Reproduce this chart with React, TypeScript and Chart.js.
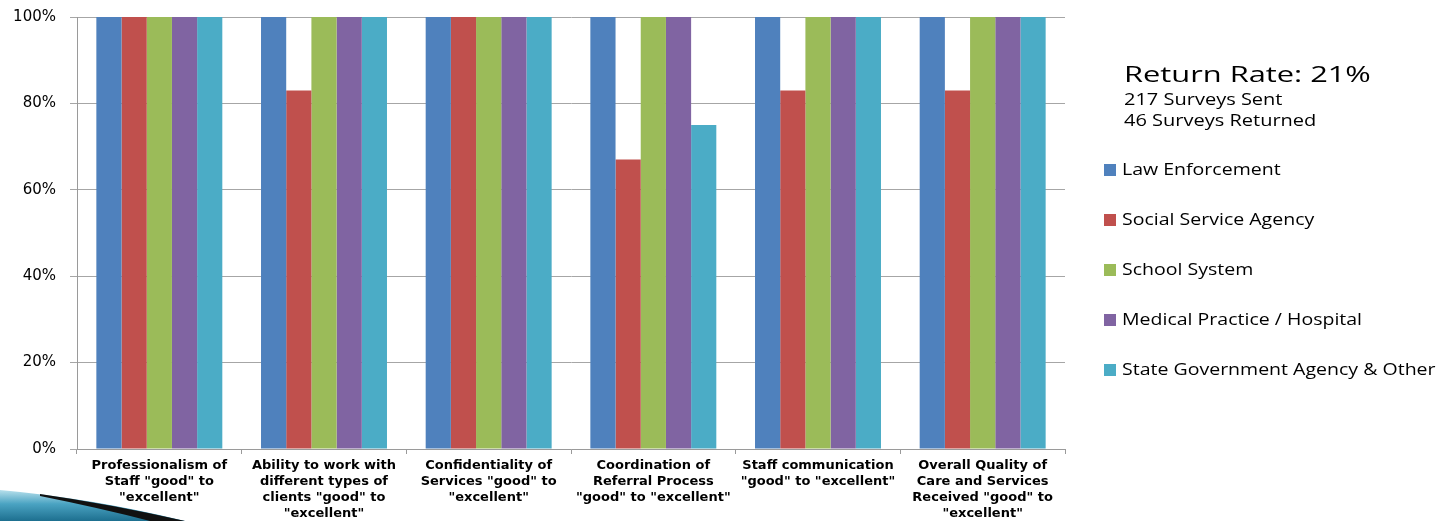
import React, { useEffect, useRef } from "react";
import { Chart, registerables } from "chart.js";

Chart.register(...registerables);

const categories: string[][] = [
  ["Professionalism of", "Staff \"good\" to", "\"excellent\""],
  ["Ability to work with", "different types of", "clients \"good\" to", "\"excellent\""],
  ["Confidentiality of", "Services \"good\" to", "\"excellent\""],
  ["Coordination of", "Referral Process", "\"good\" to \"excellent\""],
  ["Staff communication", "\"good\" to \"excellent\""],
  ["Overall Quality of", "Care and Services", "Received \"good\" to", "\"excellent\""],
];

const seriesNames = [
  "Law Enforcement",
  "Social Service Agency",
  "School System",
  "Medical Practice / Hospital",
  "State Government Agency & Other",
];

const lawEnforcement = [100, 100, 100, 100, 100, 100];
const socialService = [100, 83, 100, 67, 83, 83];
const schoolSystem = [100, 100, 100, 100, 100, 100];
const medicalPractice = [100, 100, 100, 100, 100, 100];
const stateGovernment = [100, 100, 100, 75, 100, 100];

const seriesColors = ["#4F81BD", "#C0504D", "#9BBB59", "#8064A2", "#4BACC6"];

const headerTitle = "Return Rate: 21%";
const headerLines = ["217 Surveys Sent", "46 Surveys Returned"];

const yTicks = [0, 20, 40, 60, 80, 100];

function stretchedText(ctx: CanvasRenderingContext2D, text: string, x: number, y: number, sx: number) {
  ctx.save();
  ctx.translate(x, y);
  ctx.scale(sx, 1);
  ctx.fillText(text, 0, 0);
  ctx.restore();
}

export default function App() {
  const ref = useRef<HTMLCanvasElement | null>(null);

  useEffect(() => {
    document.body.style.margin = "0";
    const canvas = ref.current;
    if (!canvas) return;
    const values = [lawEnforcement, socialService, schoolSystem, medicalPractice, stateGovernment];

    const sidePlugin = {
      id: "sidePanel",
      afterDraw(chart: any) {
        const ctx = chart.ctx as CanvasRenderingContext2D;
        ctx.save();
        ctx.fillStyle = "#000";
        ctx.textBaseline = "alphabetic";
        ctx.textAlign = "left";
        ctx.font = "22px 'Open Sans', sans-serif";
        stretchedText(ctx, headerTitle, 1124, 82, 1.4);
        ctx.font = "16px 'Open Sans', sans-serif";
        headerLines.forEach((l, i) => stretchedText(ctx, l, 1124, 105 + i * 21, 1.25));
        chart.data.datasets.forEach((ds: any, i: number) => {
          const y = 170 + i * 50;
          ctx.fillStyle = ds.backgroundColor;
          ctx.fillRect(1104, y - 6, 12, 12);
          ctx.fillStyle = "#000";
          ctx.font = "16px 'Open Sans', sans-serif";
          ctx.textBaseline = "middle";
          stretchedText(ctx, ds.label, 1122, y, 1.22);
        });
        // decorative swoosh bottom-left
        const g = ctx.createLinearGradient(0, 490, 0, 521);
        g.addColorStop(0, "#b8e0ec");
        g.addColorStop(0.45, "#4aa3c2");
        g.addColorStop(1, "#1d6f8f");
        ctx.beginPath();
        ctx.moveTo(0, 490);
        ctx.quadraticCurveTo(90, 498, 185, 521);
        ctx.lineTo(0, 521);
        ctx.closePath();
        ctx.fillStyle = g;
        ctx.fill();
        ctx.beginPath();
        ctx.moveTo(40, 494);
        ctx.quadraticCurveTo(110, 504, 185, 521);
        ctx.lineTo(150, 521);
        ctx.quadraticCurveTo(100, 508, 40, 496);
        ctx.closePath();
        ctx.fillStyle = "#111";
        ctx.fill();
        ctx.restore();
      },
    };

    const chart = new Chart(canvas, {
      type: "bar",
      data: {
        labels: categories,
        datasets: seriesNames.map((name, i) => ({
          label: name,
          data: values[i],
          backgroundColor: seriesColors[i],
          borderWidth: 0,
          categoryPercentage: 0.765,
          barPercentage: 1,
        })),
      },
      options: {
        responsive: false,
        animation: false,
        layout: { padding: { top: 17, right: 389, left: 0, bottom: 0 } },
        plugins: {
          legend: { display: false },
          tooltip: { enabled: false },
        },
        scales: {
          x: {
            grid: {
              display: true,
              drawOnChartArea: false,
              drawTicks: true,
              tickLength: 5,
              offset: true,
              color: "#9a9a9a",
            },
            border: { color: "#9a9a9a", width: 1 },
            ticks: {
              color: "#000",
              font: { family: "'DejaVu Sans', sans-serif", size: 13, weight: "bold", lineHeight: 1.23 },
              maxRotation: 0,
              autoSkip: false,
              padding: 4,
            },
            afterFit(scale: any) {
              scale.height = 72;
              scale.paddingLeft = 0;
              scale.paddingRight = 0;
              scale.paddingTop = 0;
              scale.paddingBottom = 0;
            },
          },
          y: {
            min: 0,
            max: 100,
            afterBuildTicks(scale: any) {
              scale.ticks = yTicks.map((v) => ({ value: v }));
            },
            grid: { color: "#a6a6a6", lineWidth: 1, tickLength: 7 },
            border: { color: "#9a9a9a", width: 1 },
            ticks: {
              color: "#000",
              font: { family: "'DejaVu Sans', sans-serif", size: 15 },
              padding: 14,
              callback: (v: any) => `${v}%`,
            },
            afterFit(scale: any) {
              scale.width = 77;
              scale.paddingTop = 0;
              scale.paddingBottom = 0;
            },
          },
        },
      },
      plugins: [sidePlugin],
    });
    return () => chart.destroy();
  }, []);

  return <canvas ref={ref} width={1454} height={521} style={{ display: "block" }} />;
}
